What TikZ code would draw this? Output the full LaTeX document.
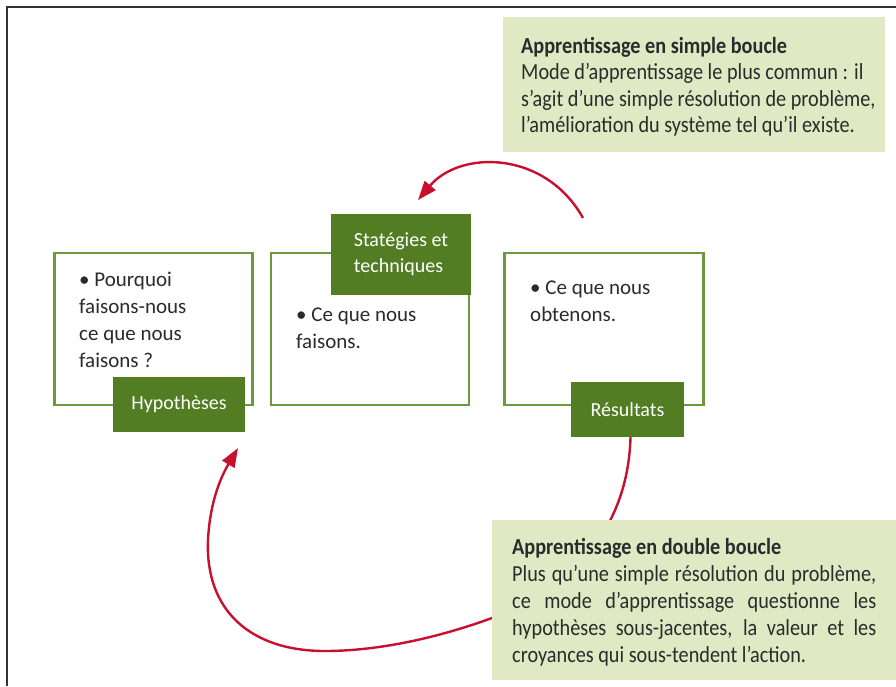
\documentclass[tikz,border=0pt]{standalone}
\usepackage{fontspec}
\setmainfont{Carlito}
\newfontfamily\condfont[FakeStretch=0.88]{Carlito}
\usetikzlibrary{arrows.meta}
\definecolor{dgreen}{HTML}{537D23}
\definecolor{bgreen}{HTML}{6A9A3A}
\definecolor{lgreen}{HTML}{E0E8C4}
\definecolor{crimson}{HTML}{C8102E}
\definecolor{txt}{HTML}{2B2B2B}
\begin{document}
\begin{tikzpicture}[x=1pt,y=-1pt,
  frameline/.style={draw=black!80,line width=2pt},
  stagebox/.style={draw=bgreen,line width=2.5pt,fill=white,inner sep=0pt},
  labelbox/.style={fill=dgreen,text=white,inner sep=0pt,font=\fontsize{20}{26}\selectfont},
  notebox/.style={fill=lgreen,inner sep=0pt},
  redarrow/.style={draw=crimson,line width=2.4pt,-{Triangle[length=19pt,width=14pt]}},
  bodytext/.style={text=txt,inner sep=0pt,anchor=base west,font=\fontsize{21}{27}\selectfont},
  notetext/.style={text=txt,inner sep=0pt,anchor=base west},
]
\useasboundingbox (0,0) rectangle (896,686);
\draw[frameline] (7,686) -- (7,7) -- (896,7);

% stage boxes
\node[stagebox, minimum width=198pt, minimum height=152pt] (hyp) at (153.5,329) {};
\node[stagebox, minimum width=198pt, minimum height=152pt] (act) at (370,329) {};
\node[stagebox, minimum width=199pt, minimum height=152pt] (out) at (604,329) {};

\node[bodytext] (t1) at (79,286) {\begin{tabular}[t]{@{}l@{}}• Pourquoi\\faisons-nous\\ce que nous\\faisons ?\end{tabular}};
\node[bodytext] (t2) at (296,321) {\begin{tabular}[t]{@{}l@{}}• Ce que nous\\faisons.\end{tabular}};
\node[bodytext] (t3) at (530,294) {\begin{tabular}[t]{@{}l@{}}• Ce que nous\\obtenons.\end{tabular}};

% labels
\node[labelbox, minimum width=132pt, minimum height=55pt] (hyplab) at (179,404.5) {Hypothèses};
\node[labelbox, minimum width=140pt, minimum height=81pt, align=left] (strat) at (401,254.5) {Statégies et\\techniques};
\node[labelbox, minimum width=113pt, minimum height=55pt] (res) at (627.5,409.5) {Résultats};

% arrows
\coordinate (s1) at (583,218);
\coordinate (e1) at (418,200);
\draw[redarrow] (s1) .. controls (545,150) and (460,150) .. (e1);

\coordinate (e2) at (238,448);
\draw[redarrow] ([xshift=3pt]res.south) .. controls (628,530) and (570,590) .. (492,618)
  .. controls (440,637) and (380,651) .. (325,651)
  .. controls (250,651) and (205,610) .. (208,540)
  .. controls (210,500) and (222,475) .. (e2);

% notes
\node[notebox, minimum width=382pt, minimum height=135pt] (single) at (694,84.5) {};
\node[notetext] (singletext) at (521,53) {\condfont\fontsize{23}{26.5}\selectfont\begin{tabular}[t]{@{}l@{}}\bfseries Apprentissage en simple boucle\\Mode d’apprentissage le plus commun : il\\s’agit d’une simple résolution de problème,\\l’amélioration du système tel qu’il existe.\end{tabular}};

\node[notebox, minimum width=404pt, minimum height=160pt] (double) at (694,600) {};
\node[notetext] (doubletext) at (512,554) {\condfont\fontsize{23}{27}\selectfont\begin{tabular}[t]{@{}l@{}}\bfseries Apprentissage en double boucle\\\makebox[364pt][s]{Plus qu’une simple résolution du problème,}\\\makebox[364pt][s]{ce mode d’apprentissage questionne les}\\\makebox[364pt][s]{hypothèses sous-jacentes, la valeur et les}\\croyances qui sous-tendent l’action.\end{tabular}};
\end{tikzpicture}
\end{document}
